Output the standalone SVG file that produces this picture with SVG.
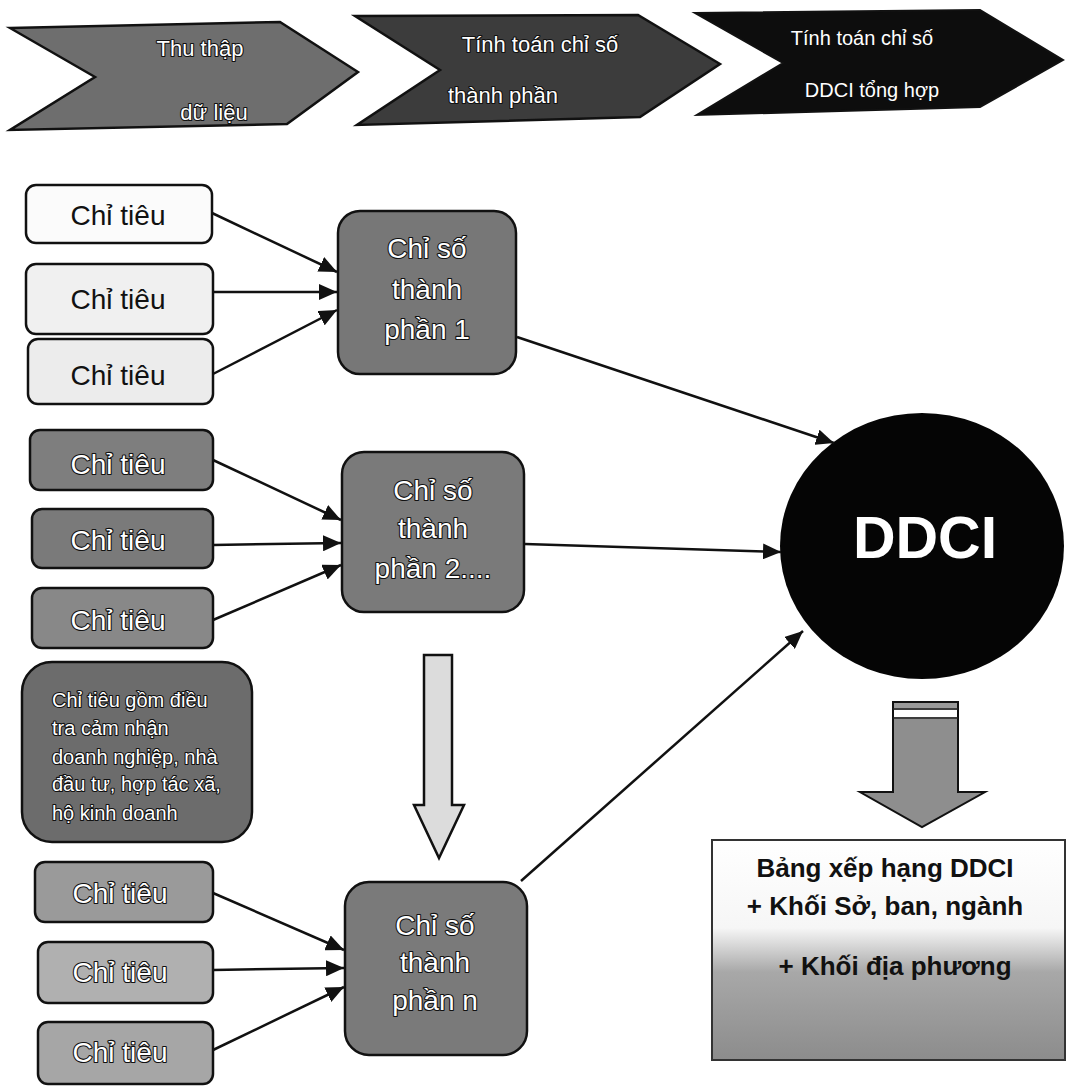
<svg xmlns="http://www.w3.org/2000/svg" width="1067" height="1087" viewBox="0 0 1067 1087">
<style>
.lbl{font-family:"Liberation Sans","DejaVu Sans",sans-serif;text-anchor:middle}
.dark{fill:#ffffff;stroke:#111;stroke-width:2.2;paint-order:stroke;stroke-linejoin:round}
.blk{fill:#111}
.box{stroke:#111;stroke-width:2.5}
.con{stroke:#111;stroke-width:2.5;fill:none;marker-end:url(#ah)}
</style>
<defs>
<marker id="ah" markerUnits="userSpaceOnUse" markerWidth="20" markerHeight="16" refX="18" refY="8" orient="auto">
<path d="M0,0 L18,8 L0,16 Z" fill="#111"/>
</marker>
<linearGradient id="rank" x1="0" y1="0" x2="0" y2="1">
<stop offset="0" stop-color="#ffffff"/>
<stop offset="0.4" stop-color="#f6f6f6"/>
<stop offset="0.6" stop-color="#a8a8a8"/>
<stop offset="1" stop-color="#8c8c8c"/>
</linearGradient>
</defs>

<g id="chevron1">
<polygon points="10,28 280,22 358,72 287,124 10,130 95,77" fill="#6e6e6e" stroke="#111" stroke-width="2.5"/>
<text class="lbl dark" x="200" y="56" font-size="22">Thu thập</text>
<text class="lbl dark" x="214" y="120" font-size="22">dữ liệu</text>
</g>
<g id="chevron2">
<polygon points="355,16 638,15 720,64 640,117 357,125 440,70" fill="#3c3c3c" stroke="#111" stroke-width="2.5"/>
<text class="lbl dark" x="540" y="52" font-size="22">Tính toán chỉ số</text>
<text class="lbl dark" x="503" y="103" font-size="22">thành phần</text>
</g>
<g id="chevron3">
<polygon points="695,13 980,10 1063,60 980,107 697,115 783,63" fill="#0d0d0d" stroke="#111" stroke-width="2"/>
<text class="lbl" fill="#fff" x="862" y="45" font-size="20">Tính toán chỉ số</text>
<text class="lbl" fill="#fff" x="872" y="97" font-size="20">DDCI tổng hợp</text>
</g>

<g id="b1"><rect class="box" x="26" y="185" width="186" height="58" rx="10" fill="#fbfbfb"/><text class="lbl blk" x="118" y="225" font-size="28">Chỉ tiêu</text></g>
<g id="b2"><rect class="box" x="26" y="264" width="187" height="70" rx="10" fill="#f0f0f0"/><text class="lbl blk" x="118" y="309" font-size="28">Chỉ tiêu</text></g>
<g id="b3"><rect class="box" x="28" y="339" width="185" height="65" rx="10" fill="#ececec"/><text class="lbl blk" x="118" y="385" font-size="28">Chỉ tiêu</text></g>

<g id="b4"><rect class="box" x="30" y="430" width="183" height="60" rx="10" fill="#7e7e7e"/><text class="lbl dark" x="118" y="474" font-size="28">Chỉ tiêu</text></g>
<g id="b5"><rect class="box" x="32" y="509" width="181" height="59" rx="10" fill="#7a7a7a"/><text class="lbl dark" x="118" y="550" font-size="28">Chỉ tiêu</text></g>
<g id="b6"><rect class="box" x="32" y="588" width="181" height="60" rx="10" fill="#888888"/><text class="lbl dark" x="118" y="630" font-size="28">Chỉ tiêu</text></g>

<g id="survey"><rect class="box" x="22" y="662" width="230" height="180" rx="30" fill="#6c6c6c"/>
<text class="dark" font-family="Liberation Sans, DejaVu Sans, sans-serif" font-size="20">
<tspan x="52" y="707">Chỉ tiêu gồm điều</tspan>
<tspan x="52" y="735">tra cảm nhận</tspan>
<tspan x="52" y="764">doanh nghiệp, nhà</tspan>
<tspan x="52" y="791">đầu tư, hợp tác xã,</tspan>
<tspan x="52" y="820">hộ kinh doanh</tspan>
</text></g>

<g id="b7"><rect class="box" x="35" y="862" width="178" height="60" rx="10" fill="#9a9a9a"/><text class="lbl dark" x="120" y="903" font-size="28">Chỉ tiêu</text></g>
<g id="b8"><rect class="box" x="38" y="942" width="175" height="61" rx="10" fill="#b0b0b0"/><text class="lbl dark" x="120" y="982" font-size="28">Chỉ tiêu</text></g>
<g id="b9"><rect class="box" x="38" y="1022" width="175" height="62" rx="10" fill="#a6a6a6"/><text class="lbl dark" x="120" y="1062" font-size="28">Chỉ tiêu</text></g>

<g id="cs1"><rect class="box" x="338" y="211" width="178" height="163" rx="22" fill="#777777"/>
<text class="lbl dark" font-size="28"><tspan x="427" y="258">Chỉ số</tspan><tspan x="427" y="299">thành</tspan><tspan x="427" y="339">phần 1</tspan></text></g>
<g id="cs2"><rect class="box" x="342" y="452" width="182" height="160" rx="22" fill="#7a7a7a"/>
<text class="lbl dark" font-size="28"><tspan x="433" y="500">Chỉ số</tspan><tspan x="433" y="538">thành</tspan><tspan x="433" y="578">phần 2....</tspan></text></g>
<g id="csn"><rect class="box" x="345" y="882" width="182" height="173" rx="24" fill="#7a7a7a"/>
<text class="lbl dark" font-size="28"><tspan x="435" y="935">Chỉ số</tspan><tspan x="435" y="972">thành</tspan><tspan x="435" y="1010">phần n</tspan></text></g>

<g id="ddci"><ellipse cx="922" cy="546" rx="142" ry="133" fill="#050505"/>
<text class="lbl" fill="#fff" font-weight="bold" x="925" y="558" font-size="59">DDCI</text></g>

<g id="arrow-down"><polygon points="424,655 452,655 452,805 464,805 439,858 414,805 424,805" fill="#dcdcdc" stroke="#111" stroke-width="2.5"/></g>

<g id="arrow-rank">
<polygon points="893,702 958,702 958,792 985,792 922,827 860,792 893,792" fill="#8e8e8e" stroke="#111" stroke-width="2"/>
<rect x="894" y="703" width="63" height="5" fill="#9a9a9a"/>
<rect x="894" y="710" width="63" height="7" fill="#ffffff"/>
<line x1="893" y1="709" x2="958" y2="709" stroke="#222" stroke-width="1.5"/>
<line x1="893" y1="718" x2="958" y2="718" stroke="#222" stroke-width="1.5"/>
</g>

<g id="ranking"><rect x="712" y="840" width="353" height="220" fill="url(#rank)" stroke="#333" stroke-width="2"/>
<text class="lbl blk" font-weight="bold" font-size="26"><tspan x="885" y="877">Bảng xếp hạng DDCI</tspan><tspan x="885" y="915">+ Khối Sở, ban, ngành</tspan><tspan x="895" y="975">+ Khối địa phương</tspan></text></g>

<g id="connectors">
<line class="con" x1="212" y1="213" x2="337" y2="272"/>
<line class="con" x1="213" y1="292" x2="337" y2="292"/>
<line class="con" x1="213" y1="374" x2="337" y2="310"/>
<line class="con" x1="213" y1="460" x2="341" y2="520"/>
<line class="con" x1="213" y1="545" x2="341" y2="543"/>
<line class="con" x1="213" y1="620" x2="341" y2="565"/>
<line class="con" x1="213" y1="893" x2="344" y2="950"/>
<line class="con" x1="213" y1="970" x2="344" y2="968"/>
<line class="con" x1="213" y1="1050" x2="344" y2="987"/>
<line class="con" x1="517" y1="337" x2="834" y2="443"/>
<line class="con" x1="525" y1="544" x2="781" y2="552"/>
<line class="con" x1="521" y1="881" x2="803" y2="631"/>
</g>
</svg>
